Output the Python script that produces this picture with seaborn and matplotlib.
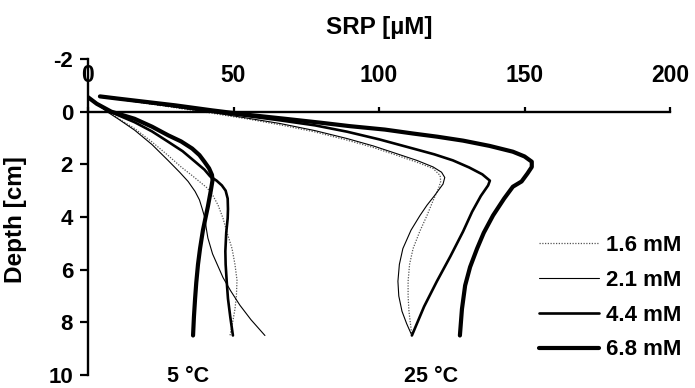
import numpy as np
import pandas as pd
import matplotlib
matplotlib.use("Agg")
import matplotlib.pyplot as plt
import seaborn as sns
from matplotlib.lines import Line2D

# ---------------- data ----------------
concentrations = ["1.6 mM", "2.1 mM", "4.4 mM", "6.8 mM"]
x_ticks = [0, 50, 100, 150, 200]
y_ticks = [-2, 0, 2, 4, 6, 8, 10]

# 5 °C
depth_5_16 = [-0.55, -0.3, 0.0, 0.3, 0.64, 1.15, 1.66, 2.1, 2.42, 2.7, 2.9, 3.2, 3.55, 4.05,
              4.6, 5.2, 5.8, 6.4, 7.0, 7.5, 8.0, 8.5]
srp_5_16 = [0, 3, 7, 11, 16, 22, 27.5, 32, 35.7, 38.8, 41, 43, 44.7, 46.4,
            47.8, 49.5, 50.5, 51.2, 51, 50.5, 49.7, 48.8]

depth_5_21 = [-0.55, -0.3, 0.0, 0.27, 0.7, 1.25, 1.85, 2.3, 2.65, 3.03, 3.35, 3.67, 4.05,
              4.4, 4.8, 5.4, 5.9, 6.3, 6.8, 7.35, 7.9, 8.5]
srp_5_21 = [0, 3, 6.5, 10.3, 16, 22, 27.5, 31.5, 34.4, 36.8, 38.3, 39.2, 40.2,
            40.6, 41.2, 42.8, 44.8, 46.4, 49, 52.2, 56, 60.8]

depth_5_44 = [-0.55, -0.3, 0.0, 0.4, 0.75, 1.14, 1.5, 1.9, 2.2, 2.46, 2.62, 2.8, 3.0, 3.3,
              3.7, 4.05, 4.6, 5.3, 5.8, 6.5, 7.1, 7.8, 8.5]
srp_5_44 = [0, 3, 7.5, 16, 22, 27.5, 32.5, 36.8, 40, 42, 44.2, 46, 47.3, 48,
            48.1, 48, 47.5, 47.2, 47.3, 47.7, 48.1, 48.9, 49.8]

depth_5_68 = [-0.55, -0.3, 0.0, 0.27, 0.57, 0.9, 1.13, 1.4, 1.65, 1.9, 2.15, 2.4, 2.6, 3.0,
              3.6, 4.5, 5.2, 5.8, 6.5, 7.1, 7.8, 8.5]
srp_5_68 = [0, 3, 8, 16, 22, 27.6, 32, 35.8, 38.3, 40, 41.6, 42.6, 42.8, 42.2,
            41.2, 39.5, 38.5, 37.8, 37.2, 36.8, 36.4, 36.1]

# 25 °C
depth_25_16 = [-0.58, -0.48, -0.31, -0.15, 0.06, 0.28, 0.5, 0.77, 1.08, 1.36, 1.66, 1.92,
               2.16, 2.42, 2.65, 2.9, 3.4, 3.94, 4.55, 5.2, 5.8, 6.44, 7.0, 7.58, 8.05, 8.5]
srp_25_16 = [4.1, 10, 20, 30, 42.6, 55, 66, 78, 89, 98, 106.2, 113,
             118.6, 121, 121.2, 120.5, 118.5, 116.5, 114, 111.7, 110.5, 110, 110, 110.3, 110.8, 111.3]

depth_25_21 = [-0.58, -0.49, -0.33, -0.17, 0.03, 0.25, 0.45, 0.72, 1.02, 1.3, 1.6, 1.85,
               2.1, 2.3, 2.5, 2.75, 3.2, 3.55, 3.94, 4.5, 5.2, 5.8, 6.44, 7.0, 7.58, 8.05, 8.5]
srp_25_21 = [4.1, 10, 20, 30, 42.6, 55, 66, 78, 89, 98, 106.2, 113,
             118.6, 121.5, 122.6, 122, 119, 116.5, 114.1, 111, 108.2, 107, 106.5, 106.8, 107.9, 109.5, 111.3]

depth_25_44 = [-0.58, -0.5, -0.35, -0.2, 0.0, 0.17, 0.33, 0.52, 0.76, 1.05, 1.4, 1.62,
               1.85, 2.12, 2.38, 2.62, 2.8, 3.2, 3.8, 4.55, 5.5, 6.44, 7.4, 8.5]
srp_25_44 = [4.1, 10, 20, 30, 42.6, 55, 66, 78, 89, 100, 111.7, 119,
             125.4, 131, 135.5, 138.1, 137.5, 135, 132, 128.9, 124.5, 119.9, 115.5, 111.3]

depth_25_68 = [-0.58, -0.5, -0.37, -0.24, -0.05, 0.12, 0.27, 0.42, 0.55, 0.68, 0.83, 0.95,
               1.1, 1.3, 1.52, 1.7, 1.9, 2.1, 2.35, 2.65, 2.85, 3.3, 3.94, 4.6, 5.2, 5.9,
               6.6, 7.5, 8.5]
srp_25_68 = [4.1, 10, 20, 30, 42.6, 55, 67.7, 80, 90, 102, 111.7, 120,
             128.9, 138, 146, 150, 152.5, 152.5, 151, 149, 146, 143, 139.2, 136, 133.7, 131.3,
             129.6, 128.5, 127.8]

temp_labels = ["5 °C", "25 °C"]

# ---------------- style ----------------
sns.set_style("white")
plt.rcParams["font.family"] = ["Liberation Sans", "DejaVu Sans"]
plt.rcParams["font.weight"] = "bold"
plt.rcParams["axes.unicode_minus"] = False
plt.rcParams["text.color"] = "black"
plt.rcParams["xtick.color"] = "black"
plt.rcParams["ytick.color"] = "black"
plt.rcParams["axes.edgecolor"] = "black"

styles = {
    "1.6 mM": dict(color="#555555", lw=0.9, ls=(0, (1, 1.2))),
    "2.1 mM": dict(color="black", lw=0.8, ls="-"),
    "4.4 mM": dict(color="black", lw=1.9, ls="-"),
    "6.8 mM": dict(color="black", lw=3.0, ls="-"),
}

series = [
    ("1.6 mM", srp_5_16, depth_5_16), ("2.1 mM", srp_5_21, depth_5_21),
    ("4.4 mM", srp_5_44, depth_5_44), ("6.8 mM", srp_5_68, depth_5_68),
    ("1.6 mM", srp_25_16, depth_25_16), ("2.1 mM", srp_25_21, depth_25_21),
    ("4.4 mM", srp_25_44, depth_25_44), ("6.8 mM", srp_25_68, depth_25_68),
]

W, H = 695, 388
fig = plt.figure(figsize=(W / 100, H / 100), dpi=100)
ax = fig.add_axes([88 / W, 1 - 375 / H, 582 / W, 316 / H])

for conc, srp, depth in series:
    df = pd.DataFrame({"SRP": srp, "Depth": depth})
    st = styles[conc]
    sns.lineplot(data=df, x="SRP", y="Depth", sort=False, estimator=None, ax=ax,
                 color=st["color"], lw=st["lw"], ls=st["ls"])

ax.set_xlim(0, 200)
ax.set_ylim(10, -2)
ax.set_xlabel("")
ax.set_ylabel("")
ax.set_xticks(x_ticks)
ax.set_yticks(y_ticks)
ax.set_xticklabels([str(v) for v in x_ticks])
ax.set_yticklabels([str(v) for v in y_ticks])

for s in ["right", "bottom"]:
    ax.spines[s].set_visible(False)
ax.spines["top"].set_position(("data", 0))
ax.spines["top"].set_linewidth(1.7)
ax.spines["left"].set_linewidth(1.7)
ax.xaxis.tick_top()
ax.tick_params(axis="x", top=True, bottom=False, direction="out", length=3.6, width=1.6,
               pad=14, labelsize=16.5)
ax.tick_params(axis="y", left=True, direction="out", length=5.8, width=1.6,
               pad=5, labelsize=16)
for lab in ax.get_xticklabels() + ax.get_yticklabels():
    lab.set_fontweight("bold")

fig.text(379 / W, 1 - 34 / H, "SRP [µM]", ha="center", va="baseline", fontsize=17.5, weight="bold")
fig.text(16 / W, 1 - 220 / H, "Depth [cm]", ha="center", va="center", rotation=90,
         fontsize=17.5, weight="bold")

temp_label_px = [188, 431]
for lab, xp in zip(temp_labels, temp_label_px):
    fig.text(xp / W, 1 - 382.5 / H, lab, ha="center", va="baseline", fontsize=15.5, weight="bold")

handles = [Line2D([], [], **styles[c]) for c in concentrations]
fig.legend(handles, concentrations, loc="upper left",
           bbox_to_anchor=(539 / W, 1 - 235 / H), frameon=False,
           handlelength=2.7, handletextpad=0.32, labelspacing=0.62,
           borderpad=0, borderaxespad=0, prop={"weight": "bold", "size": 16})

fig.savefig("out.png", dpi=100)
